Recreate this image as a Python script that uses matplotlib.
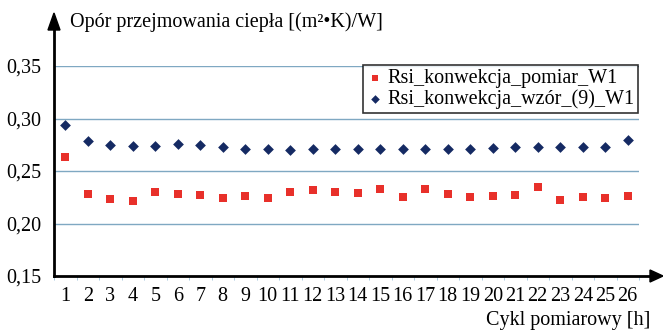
import numpy as np
import matplotlib.pyplot as plt
from matplotlib.ticker import FixedLocator

plt.rcParams['font.family'] = ['Liberation Serif', 'DejaVu Serif']

cykl = np.arange(1, 27)
pomiar = [0.263, 0.228, 0.223, 0.221, 0.230, 0.228, 0.227, 0.224, 0.226, 0.224,
          0.230, 0.232, 0.230, 0.229, 0.233, 0.225, 0.233, 0.228, 0.225, 0.226,
          0.227, 0.235, 0.222, 0.225, 0.224, 0.226]
wzor = [0.294, 0.279, 0.275, 0.274, 0.274, 0.276, 0.275, 0.273, 0.271, 0.271,
        0.270, 0.271, 0.271, 0.271, 0.271, 0.271, 0.271, 0.271, 0.271, 0.272,
        0.273, 0.273, 0.273, 0.273, 0.273, 0.280]
yticks = [0.15, 0.20, 0.25, 0.30, 0.35]
ytick_labels = ['0,15', '0,20', '0,25', '0,30', '0,35']

fig = plt.figure(figsize=(6.63, 3.30), dpi=100)
ax = fig.add_axes([54/663, 54/330, 585/663, 210/330])

for yv in yticks[1:]:
    ax.axhline(yv, color='#7fa8c2', linewidth=1.0, zorder=1)

ax.scatter(cykl, pomiar, marker='s', s=38, color='#e8302a', linewidths=0,
           label='Rsi_konwekcja_pomiar_W1', zorder=3)
ax.scatter(cykl, wzor, marker='D', s=30, color='#152a63', linewidths=0,
           label='Rsi_konwekcja_wzór_(9)_W1', zorder=3)

ax.set_xlim(0.5, 26.5)
ax.set_ylim(0.15, 0.35)
ax.set_yticks(yticks)
ax.set_yticklabels(ytick_labels, fontsize=14.5)
ax.set_xticks(cykl)
ax.set_xticklabels([str(c) for c in cykl], fontsize=14.5)
ax.xaxis.set_minor_locator(FixedLocator(np.arange(0.5, 27, 1)))
ax.tick_params(axis='x', which='major', length=0, pad=8)
ax.tick_params(axis='x', which='minor', length=3, color='#9cc0d8', direction='out')
ax.tick_params(axis='y', length=0, pad=9)

for s in ['top', 'right', 'left', 'bottom']:
    ax.spines[s].set_visible(False)

# osie ze strzalkami
fig.add_artist(plt.Line2D([54/663, 54/663], [54/330, 305/330], color='black', lw=2))
fig.add_artist(plt.Line2D([54/663, 652/663], [54/330, 54/330], color='black', lw=2))
fig.add_artist(plt.Polygon([[48/663, 300/330], [60/663, 300/330], [54/663, 317/330]],
                           closed=True, color='black', transform=fig.transFigure))
fig.add_artist(plt.Polygon([[650/663, 48/330], [650/663, 60/330], [663/663, 54/330]],
                           closed=True, color='black', transform=fig.transFigure))

fig.text(70/663, 308/330, 'Opór przejmowania ciepła [(m²•K)/W]', fontsize=14.5,
         ha='left', va='center')
fig.text(650/663, 10/330, 'Cykl pomiarowy [h]', fontsize=14.5, ha='right', va='center')

leg = ax.legend(loc='upper left', bbox_to_anchor=(309/585, 1.005),
                prop={'family': 'Liberation Serif', 'size': 14.5},
                frameon=True, fancybox=False, edgecolor='black', handletextpad=0.2,
                borderpad=0.2, labelspacing=0.05, handlelength=0.8,
                borderaxespad=0, markerscale=0.8)
leg.get_frame().set_linewidth(1.2)

fig.savefig('out.png', dpi=100)
